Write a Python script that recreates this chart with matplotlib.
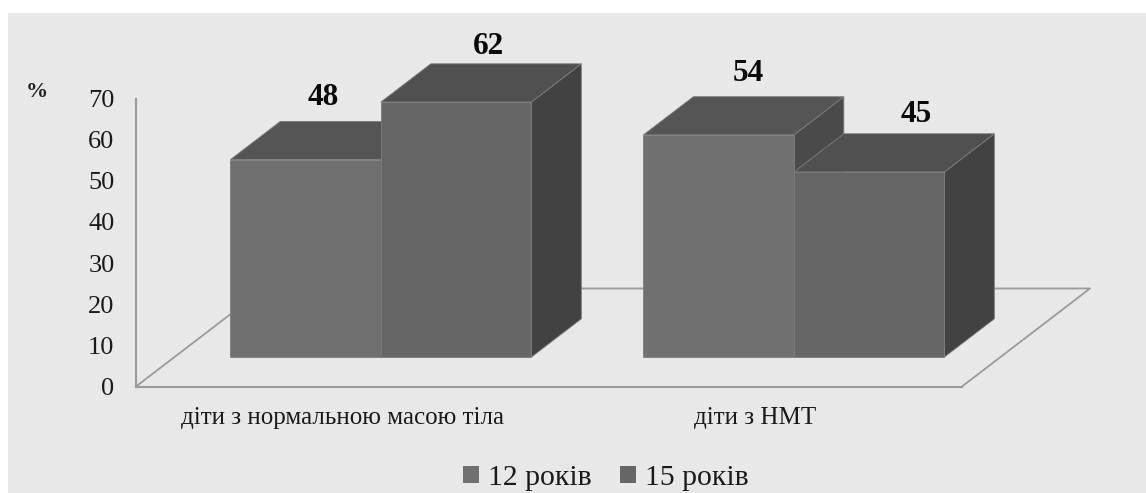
import matplotlib
matplotlib.use("Agg")
import matplotlib.pyplot as plt
from matplotlib.patches import Polygon, Rectangle, Patch

# Survey shares by age group and body-mass category
categories = ["діти з нормальною масою тіла", "діти з НМТ"]
series_names = ["12 років", "15 років"]
values_12 = [48, 54]
values_15 = [62, 45]
y_ticks = [0, 10, 20, 30, 40, 50, 60, 70]

W, H = 1146, 493
plt.rcParams["font.family"] = ["Liberation Serif", "DejaVu Serif"]

FACE = ["#707070", "#666666"]
TOP = ["#555555", "#505050"]
SIDE = ["#4a4a4a", "#424242"]
EDGE = "#7d7d7d"
LINE = "#9a9a9a"

fig = plt.figure(figsize=(W / 100, H / 100), dpi=100, facecolor="white")
fig.add_artist(Rectangle((8 / W, 0), (W - 8) / W, (H - 13) / H,
                         transform=fig.transFigure, facecolor="#e8e8e8",
                         edgecolor="none", zorder=-5))

# Axes rectangle: front-left floor corner to the top of the value axis
x0, x1, y0, y1 = 136, 962, 386.5, 98.5
ax = fig.add_axes([x0 / W, (H - y0) / H, (x1 - x0) / W, (y0 - y1) / H])
ax.patch.set_alpha(0)
ax.set_xlim(0, 2)
ax.set_ylim(0, 70)

# Oblique projection of the floor depth onto the screen plane
depth_x = 128 / ((x1 - x0) / 2)
depth_y = 98 / ((y0 - y1) / 70)


def project(x, v, d):
    return (x + d * depth_x, v + d * depth_y)


# Floor outline
floor = [project(0, 0, 1), project(2, 0, 1), project(2, 0, 0)]
ax.plot(*zip(*[project(0, 0, 0), project(0, 0, 1)]), color=LINE, lw=1.3, zorder=1, clip_on=False)
ax.plot(*zip(*floor), color=LINE, lw=1.3, zorder=1, clip_on=False)

# Bars
bar_w = 150.5 / ((x1 - x0) / 2)
d_front, d_back = 0.30, 0.69
label_offsets = [(-32, 24), (-18, 17), (-20, 23), (-3, 19)]
labels_done = 0
for c in range(len(categories)):
    for s, vals in enumerate([values_12, values_15]):
        v = vals[c]
        left = c + 0.5 + (s - 1) * bar_w
        right = left + bar_w
        a, b = project(left, 0, d_front), project(right, 0, d_front)
        ta, tb = project(left, v, d_front), project(right, v, d_front)
        ba, bb = project(left, v, d_back), project(right, v, d_back)
        gb = project(right, 0, d_back)
        z = 3 + c * 3 + s * 3
        ax.add_patch(Polygon([b, gb, bb, tb], closed=True, facecolor=SIDE[s],
                             edgecolor=EDGE, lw=0.6, zorder=z, clip_on=False))
        ax.add_patch(Polygon([ta, ba, bb, tb], closed=True, facecolor=TOP[s],
                             edgecolor=EDGE, lw=0.6, zorder=z + 0.1, clip_on=False))
        ax.add_patch(Polygon([a, b, tb, ta], closed=True, facecolor=FACE[s],
                             edgecolor=EDGE, lw=0.6, zorder=z + 0.2, clip_on=False))
        dx, dy = label_offsets[labels_done]
        labels_done += 1
        ax.annotate(str(v), xy=((ba[0] + bb[0]) / 2, ba[1]), xytext=(dx * 0.72, dy * 0.72),
                    textcoords="offset points", ha="center", va="center",
                    fontsize=22.5, fontweight="bold", color="#0a0a0a", zorder=30,
                    annotation_clip=False)

# Axes furniture
for name in ("top", "right"):
    ax.spines[name].set_visible(False)
for name in ("left", "bottom"):
    ax.spines[name].set_color(LINE)
    ax.spines[name].set_linewidth(1.5)
    ax.spines[name].set_zorder(2)
ax.set_yticks(y_ticks)
ax.set_xticks([0.5, 1.5], categories)
ax.tick_params(axis="y", length=0, pad=15.5, labelsize=19, labelcolor="#1a1a1a")
ax.tick_params(axis="x", length=0, pad=15, labelsize=18, labelcolor="#1a1a1a")

fig.text(37 / W, (H - 92) / H, "%", fontsize=16, fontweight="bold", color="#222222",
         ha="center", va="center")

handles = [Patch(facecolor=FACE[0], label=series_names[0]),
           Patch(facecolor=FACE[1], label=series_names[1])]
fig.legend(handles=handles, loc="center", bbox_to_anchor=(606 / W, (H - 478) / H),
           ncol=2, frameon=False, fontsize=21.4, handlelength=0.55, handleheight=0.55,
           handletextpad=0.3, columnspacing=0.95, labelcolor="#1a1a1a",
           borderpad=0, borderaxespad=0)

fig.savefig("out.png", dpi=100, facecolor="white")
